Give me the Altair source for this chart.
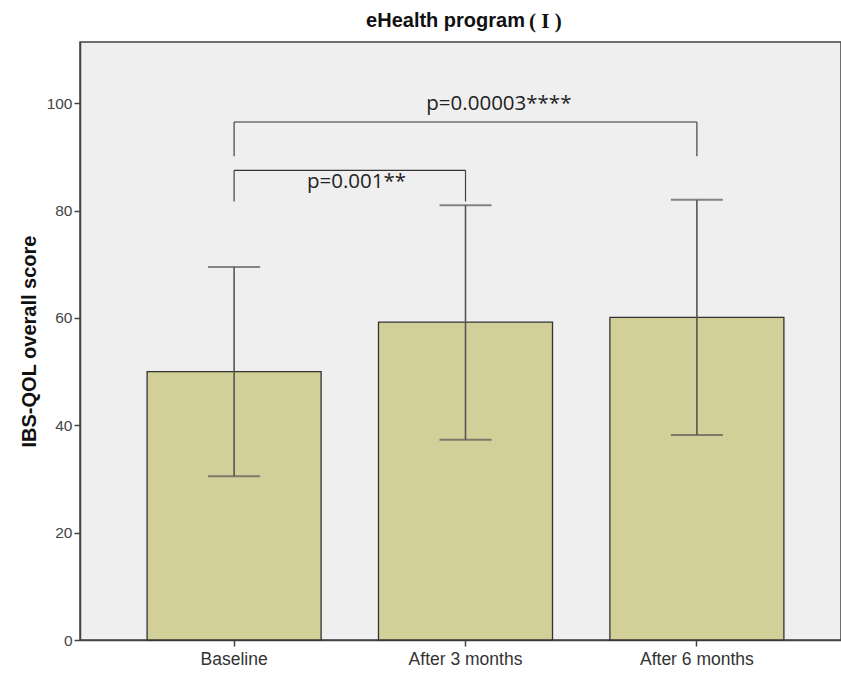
import altair as alt
import pandas as pd

categories = ["Baseline", "After 3 months", "After 6 months"]
means = [50.0, 59.2, 60.1]
lower = [30.5, 37.3, 38.2]
upper = [69.5, 81.0, 82.0]

bracket_from = ["Baseline", "Baseline"]
bracket_to = ["After 6 months", "After 3 months"]
bracket_low = [90.1, 81.7]
bracket_high = [96.5, 87.5]
bracket_labels = ["p=0.00003****", "p=0.001**"]
label_y = [99.8, 85.3]

title_main = "eHealth program"
title_roman = "( I )"

df = pd.DataFrame({"cat": categories, "mean": means, "lo": lower, "hi": upper})
br = pd.DataFrame({"a": bracket_from, "b": bracket_to, "low": bracket_low,
                   "high": bracket_high, "label": bracket_labels, "ly": label_y})

FONT = "Liberation Sans"
PFONT = "Open Sans"
xscale = alt.Scale(domain=categories, range=[0, 771], paddingInner=0.248, paddingOuter=0.29)
yscale = alt.Scale(domain=[0, 111.4], nice=False, zero=True)

x = alt.X("cat:N", scale=xscale, sort=categories,
          axis=alt.Axis(title=None, labelAngle=0, labelFont=FONT, labelFontSize=17.5,
                        labelColor="#333", tickColor="#444", tickSize=6, labelPadding=4,
                        domainColor="#444", domainWidth=1.5, tickWidth=1.5))
y = alt.Y("mean:Q", scale=yscale,
          axis=alt.Axis(title="IBS-QOL overall score", values=[0, 20, 40, 60, 80, 100],
                        grid=False, labelFont=FONT, labelFontSize=15.5, labelColor="#444",
                        tickColor="#444", tickSize=6, tickWidth=1.5, labelPadding=2,
                        domainColor="#444", domainWidth=1.5,
                        titleFont=FONT, titleFontSize=20, titleFontWeight="bold",
                        titleColor="#111", titlePadding=7))

bars = alt.Chart(df).mark_bar(fill="#D3CF99", stroke="#333", strokeWidth=1.3).encode(x=x, y=y)

err = alt.Chart(df).mark_rule(color="#555", strokeWidth=1.6).encode(
    x=alt.X("cat:N", scale=xscale, sort=categories),
    y=alt.Y("lo:Q", scale=yscale), y2="hi:Q")
caps_hi = alt.Chart(df).mark_tick(color="#555", thickness=2, size=52).encode(
    x=alt.X("cat:N", scale=xscale, sort=categories), y=alt.Y("hi:Q", scale=yscale))
caps_lo = alt.Chart(df).mark_tick(color="#555", thickness=2, size=52).encode(
    x=alt.X("cat:N", scale=xscale, sort=categories), y=alt.Y("lo:Q", scale=yscale))

bx = alt.X("a:N", scale=xscale, sort=categories)
h_line = alt.Chart(br).mark_rule(color="#333", strokeWidth=1.2).encode(
    x=bx, x2="b:N", y=alt.Y("high:Q", scale=yscale))
v_left = alt.Chart(br).mark_rule(color="#444", strokeWidth=1.2).encode(
    x=bx, y=alt.Y("low:Q", scale=yscale), y2="high:Q")
v_right = alt.Chart(br).mark_rule(color="#444", strokeWidth=1.2).encode(
    x=alt.X("b:N", scale=xscale, sort=categories), y=alt.Y("low:Q", scale=yscale), y2="high:Q")

txt_big = alt.Chart(br).transform_filter(alt.datum.label == bracket_labels[0]).mark_text(
    font=PFONT, fontSize=20.5, color="#222", dx=-198, baseline="middle").encode(
    x=alt.X("b:N", scale=xscale, sort=categories), y=alt.Y("ly:Q", scale=yscale), text="label:N")
txt_small = alt.Chart(br).transform_filter(alt.datum.label == bracket_labels[1]).mark_text(
    font=PFONT, fontSize=20.5, color="#222", dx=-109, baseline="middle").encode(
    x=alt.X("b:N", scale=xscale, sort=categories), y=alt.Y("ly:Q", scale=yscale), text="label:N")

title_txt = alt.Chart(pd.DataFrame({"t": [title_main]})).mark_text(
    font=FONT, fontSize=20, fontWeight="bold", color="#111", baseline="middle", align="right").encode(
    x=alt.value(445), y=alt.value(-21), text="t:N")
roman = alt.Chart(pd.DataFrame({"t": [title_roman]})).mark_text(
    font="Liberation Serif", fontSize=21, fontWeight="bold", color="#111", baseline="middle", align="left").encode(
    x=alt.value(449), y=alt.value(-20), text="t:N")

chart = alt.layer(bars, err, caps_hi, caps_lo, h_line, v_left, v_right,
                  txt_big, txt_small, title_txt, roman).properties(
    width=761, height=598,
    autosize=alt.AutoSizeParams(type="none"),
    padding={"left": 80, "top": 42, "right": 0, "bottom": 40},
    background="white",
).configure_view(fill="#EFEFEF", stroke="#444", strokeWidth=1.5)

chart.save("out.html", embed_options={"renderer": "svg", "actions": False})
